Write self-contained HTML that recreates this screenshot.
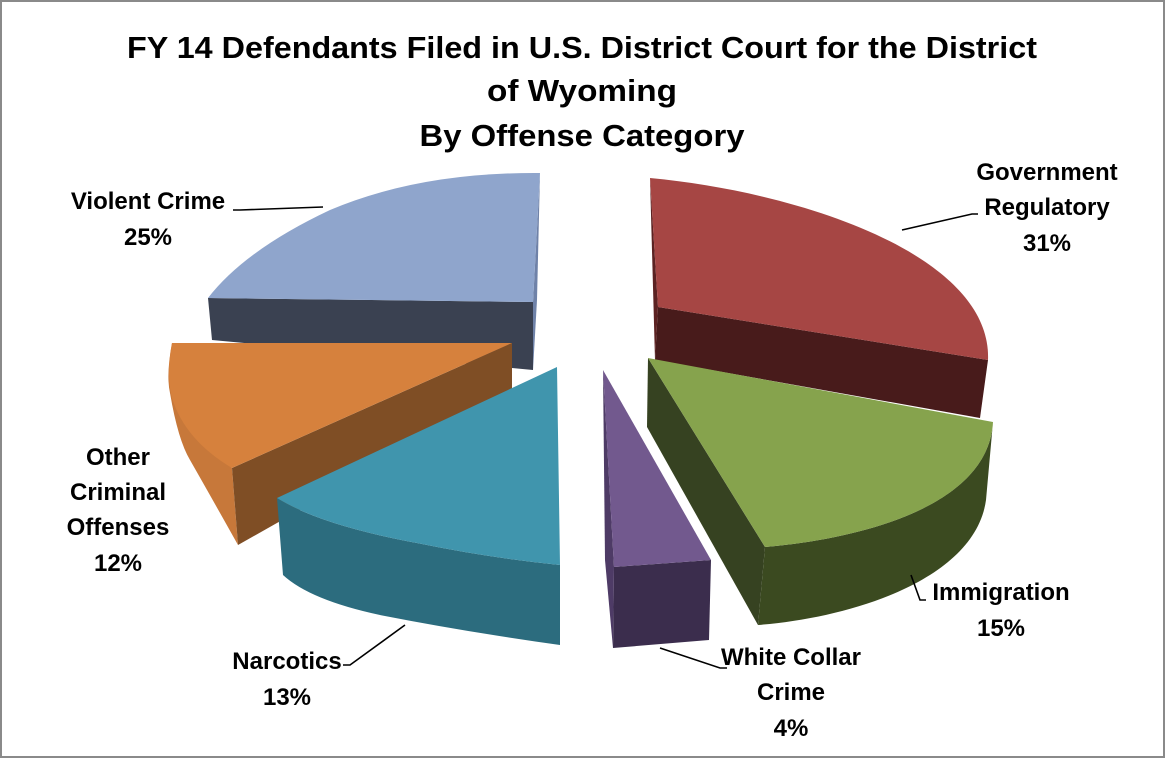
<!DOCTYPE html>
<html><head><meta charset="utf-8"><style>
html,body{margin:0;padding:0;background:#fff;}
svg{display:block;}
text{font-family:"Liberation Sans",sans-serif;font-weight:bold;fill:#000;}
</style></head><body>
<svg width="1165" height="758" viewBox="0 0 1165 758" xmlns="http://www.w3.org/2000/svg">
<rect x="1" y="1" width="1163" height="756" fill="#fff" stroke="#8a8a8a" stroke-width="2"/>
<text x="582" y="58" text-anchor="middle" font-size="31" textLength="910" lengthAdjust="spacingAndGlyphs">FY 14 Defendants Filed in U.S. District Court for the District</text>
<text x="582" y="101" text-anchor="middle" font-size="31" textLength="190" lengthAdjust="spacingAndGlyphs">of Wyoming</text>
<text x="582" y="146" text-anchor="middle" font-size="31" textLength="325" lengthAdjust="spacingAndGlyphs">By Offense Category</text>

<!-- Violent Crime (blue) -->
<path d="M208,298 L533,302 L533,370 L212,340 Z" fill="#3a4151"/>
<path d="M540,173 L533,302 L533,370 L537,300 Z" fill="#6f82a8"/>
<path d="M540,173 Q420,172 330,210 Q245,250 208,298 L533,302 Z" fill="#8fa5cc"/>

<!-- Other Criminal (orange) -->
<path d="M172,343 Q166,375 170,393 Q178,440 190,460 Q210,495 238,545 L232,468 Q195,430 180,395 Z" fill="#c7783a"/>
<path d="M232,468 L512,343 L512,390 L238,545 Z" fill="#7f4e25"/>
<path d="M512,343 L172,343 Q166,375 172,398 Q185,440 232,468 Z" fill="#d6813d"/>

<!-- Narcotics (teal) -->
<path d="M277,498 Q320,525 417,543 Q490,558 560,565 L560,645 Q467,632 380,615 Q310,600 283,575 Z" fill="#2c6c7e"/>
<path d="M557,367 L277,498 Q320,525 417,543 Q490,558 560,565 Z" fill="#4095ad"/>

<!-- Government Regulatory (red) -->
<path d="M658,307 L988,360 L980,418 L655,360 Z" fill="#481b1b"/>
<path d="M650,178 L658,307 L655,360 Z" fill="#5c2222"/>
<path d="M650,178 C800,192 992,255 988,360 L658,307 Z" fill="#a64644"/>

<!-- Immigration (green) -->
<path d="M648,358 L765,547 L758,625 L647,427 Z" fill="#364221"/>
<path d="M765,547 C850,540 988,510 993,422 L986,500 C975,580 850,618 758,625 Z" fill="#3b4a20"/>
<path d="M648,358 L993,422 C988,510 850,540 765,547 Z" fill="#86a34d"/>

<!-- White Collar (purple) -->
<path d="M614,567 L711,560 L709,640 L613,648 Z" fill="#3b2d4d"/>
<path d="M603,370 L614,567 L613,648 L605,560 Z" fill="#4e3b66"/>
<path d="M603,370 L711,560 L614,567 Z" fill="#72598e"/>

<!-- leader lines -->
<g stroke="#000" stroke-width="1.6" fill="none">
<polyline points="902,230 972,214 978,214"/>
<polyline points="323,207 240,210 233,210"/>
<polyline points="405,625 350,665 343,665"/>
<polyline points="660,648 720,668 727,668"/>
<polyline points="911,575 920,600 926,600"/>
</g>

<g font-size="24" text-anchor="middle">
<text x="1047" y="180">Government</text>
<text x="1047" y="215">Regulatory</text>
<text x="1047" y="251">31%</text>
<text x="148" y="209">Violent Crime</text>
<text x="148" y="245">25%</text>
<text x="118" y="465">Other</text>
<text x="118" y="500">Criminal</text>
<text x="118" y="535">Offenses</text>
<text x="118" y="571">12%</text>
<text x="287" y="669">Narcotics</text>
<text x="287" y="705">13%</text>
<text x="791" y="665">White Collar</text>
<text x="791" y="700">Crime</text>
<text x="791" y="736">4%</text>
<text x="1001" y="600">Immigration</text>
<text x="1001" y="636">15%</text>
</g>
</svg>
</body></html>
